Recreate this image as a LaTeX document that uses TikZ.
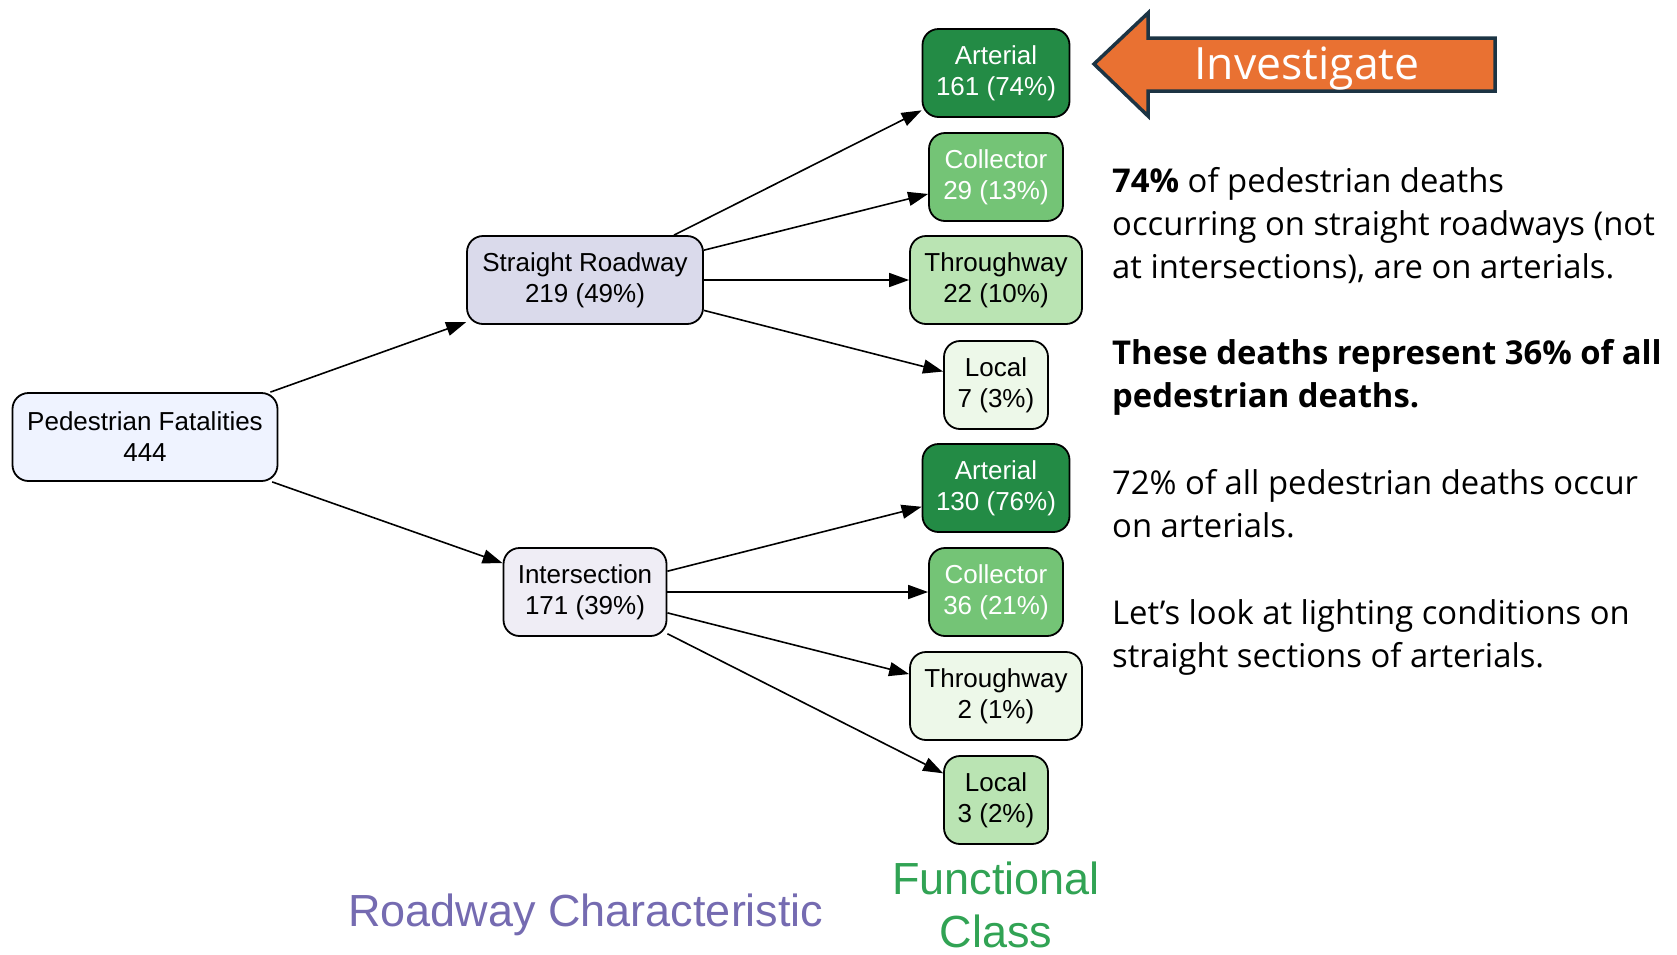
\documentclass[tikz,border=0pt]{standalone}
\usepackage{fontspec}
\setmainfont{Liberation Sans}
\newfontfamily\parafont{Open Sans}
\usetikzlibrary{arrows.meta}
\definecolor{gArt}{HTML}{238B45}
\definecolor{gCol}{HTML}{74C476}
\definecolor{gMid}{HTML}{BAE4B3}
\definecolor{gPale}{HTML}{EDF8E9}
\definecolor{pSR}{HTML}{DADAEB}
\definecolor{pInt}{HTML}{EFEDF5}
\definecolor{bPF}{HTML}{EFF3FF}
\definecolor{orangeC}{HTML}{E97132}
\definecolor{navyC}{HTML}{1C3444}
\definecolor{purpleT}{HTML}{756BB1}
\definecolor{greenT}{HTML}{31A354}
\begin{document}
\begin{tikzpicture}[x=1pt,y=-1pt,
  gv/.style={draw=black, line width=1.8pt, rounded corners=16pt, align=center,
    font=\fontsize{26}{31}\selectfont, inner sep=0pt, minimum height=88pt},
  edge/.style={-{Triangle[length=20pt,width=14pt]}, line width=1.6pt},
  para/.style={anchor=base west, inner sep=0pt, font=\parafont\fontsize{32.8}{43}\selectfont},
  title/.style={inner sep=0pt, align=center, font=\fontsize{45}{53}\selectfont}]
\useasboundingbox (0,0) rectangle (1677,954);

\node[gv, fill=bPF, minimum width=265pt] (pf) at (145,437) {Pedestrian Fatalities\\444};
\node[gv, fill=pSR, minimum width=236pt] (sr) at (585,280) {Straight Roadway\\219 (49\%)};
\node[gv, fill=pInt, minimum width=163pt] (in) at (585,592) {Intersection\\171 (39\%)};

\node[gv, fill=gArt, text=white, minimum width=147pt] (a1) at (996,73) {Arterial\\161 (74\%)};
\node[gv, fill=gCol, text=white, minimum width=134pt] (c1) at (996,177) {Collector\\29 (13\%)};
\node[gv, fill=gMid, minimum width=172pt] (t1) at (996,280) {Throughway\\22 (10\%)};
\node[gv, fill=gPale, minimum width=104pt] (l1) at (996,385) {Local\\7 (3\%)};

\node[gv, fill=gArt, text=white, minimum width=147pt] (a2) at (996,488) {Arterial\\130 (76\%)};
\node[gv, fill=gCol, text=white, minimum width=134pt] (c2) at (996,592) {Collector\\36 (21\%)};
\node[gv, fill=gPale, minimum width=172pt] (t2) at (996,696) {Throughway\\2 (1\%)};
\node[gv, fill=gMid, minimum width=104pt] (l2) at (996,800) {Local\\3 (2\%)};

\draw[edge] (pf) -- (sr);
\draw[edge] (pf) -- (in);
\draw[edge] (sr) -- (a1);
\draw[edge] (sr) -- (c1);
\draw[edge] (sr) -- (t1);
\draw[edge] (sr) -- (l1);
\draw[edge] (in) -- (a2);
\draw[edge] (in) -- (c2);
\draw[edge] (in) -- (t2);
\draw[edge] (in) -- (l2);

% Investigate arrow
\draw[fill=orangeC, draw=navyC, line width=3.5pt, line join=miter]
  (1094,64) -- (1148,13) -- (1148,38) -- (1495,38) -- (1495,91) -- (1148,91) -- (1148,116) -- cycle;
\node[inner sep=0pt, text=white, font=\parafont\fontsize{44.5}{50}\selectfont] (inv) at (1307,69) {Investigate};

% paragraph text
\node[para] (p1) at (1112,192) {\textbf{74\%} of pedestrian deaths};
\node[para] (p2) at (1112,235) {occurring on straight roadways (not};
\node[para] (p3) at (1112,278) {at intersections), are on arterials.};
\node[para] (p4) at (1112,364) {\textbf{These deaths represent 36\% of all}};
\node[para] (p5) at (1112,407) {\textbf{pedestrian deaths.}};
\node[para] (p6) at (1112,494) {72\% of all pedestrian deaths occur};
\node[para] (p7) at (1112,537) {on arterials.};
\node[para] (p8) at (1112,624) {Let’s look at lighting conditions on};
\node[para] (p9) at (1112,667) {straight sections of arterials.};

% column titles
\node[title, text=purpleT] (rc) at (586,915) {Roadway Characteristic};
\node[title, text=greenT] (fc) at (996,905) {Functional\\Class};
\end{tikzpicture}
\end{document}
